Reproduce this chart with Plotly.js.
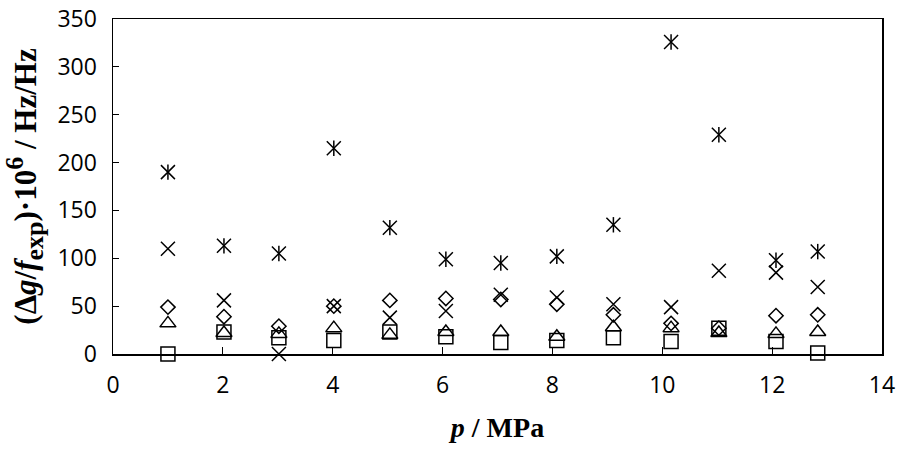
<!DOCTYPE html>
<html>
<head>
<meta charset="utf-8">
<script src="https://cdn.plot.ly/plotly-3.0.1.min.js"></script>
<style>html,body{margin:0;padding:0;background:#fff;}#chart{width:900px;height:450px;}</style>
</head>
<body>
<div id="chart"></div>
<script>
// pressure / MPa
const pressure = [1.0, 2.02, 3.02, 4.02, 5.04, 6.06, 7.06, 8.08, 9.11, 10.16, 11.03, 12.07, 12.83];
// (Δg/f_exp)·10^6 for each series
const seriesSquare   = [0, 23, 17, 14, 23, 18, 12, 14, 17, 13, 27, 13, 1];
const seriesTriangle = [32, 22, 21, 27, 20, 23, 23, 18, 28, 27, 22, 21, 23];
const seriesDiamond  = [49, 39, 29, 50, 56, 58, 57, 52, 41, 32, 27, 40, 41];
const seriesCross    = [110, 56, 0, 50, 38, 45, 62, 59, 52, 49, 87, 85, 70];
const seriesStar     = [190, 113, 105, 215, 132, 99, 95, 102, 135, 326, 229, 98, 107];
const xTicks = [0, 2, 4, 6, 8, 10, 12, 14];
const yTicks = [0, 50, 100, 150, 200, 250, 300, 350];

function tr(y, symbol, size) {
  return {
    x: pressure, y: y, type: 'scatter', mode: 'markers', cliponaxis: false,
    hoverinfo: 'skip', showlegend: false,
    marker: {symbol: symbol, size: size, color: '#000', line: {color: '#000', width: 1.5}}
  };
}
const data = [
  tr(seriesSquare, 'square-open', 14),
  tr(seriesTriangle, 'triangle-up-open', 14),
  tr(seriesDiamond, 'diamond-open', 11),
  tr(seriesCross, 'x-thin-open', 14),
  tr(seriesStar, 'x-thin-open', 14),
  tr(seriesStar, 'line-ns-open', 11)
];

const tickFont = {family: 'Open Sans, sans-serif', size: 23, color: '#000'};
const titleFont = {family: 'Liberation Serif, Times New Roman, serif', size: 28, color: '#000', weight: 'bold'};
const yTitleFont = {family: 'Liberation Serif, Times New Roman, serif', size: 31, color: '#000', weight: 'bold'};

const layout = {
  width: 900, height: 450,
  margin: {l: 113, r: 18, t: 19, b: 96},
  paper_bgcolor: '#fff', plot_bgcolor: '#fff',
  showlegend: false,
  xaxis: {
    range: [0, 14], tickvals: xTicks, ticktext: xTicks.map(String),
    showgrid: false, zeroline: false,
    showline: true, linecolor: '#000', linewidth: 1.5, mirror: true,
    ticks: 'inside', ticklen: 7, tickwidth: 1.2, tickcolor: '#000',
    tickfont: tickFont, ticklabelstandoff: 10,
    title: {text: '<b><i>p</i> / MPa</b>', font: titleFont, standoff: 18}
  },
  yaxis: {
    range: [0, 350], tickvals: yTicks, ticktext: yTicks.map(String),
    showgrid: false, zeroline: false,
    showline: true, linecolor: '#000', linewidth: 1.5, mirror: true,
    ticks: 'inside', ticklen: 6, tickwidth: 1.2, tickcolor: '#000',
    tickfont: tickFont, ticklabelstandoff: 10,
    title: {text: '<b>(Δ<i>g</i>/<i>f</i><sub><span style="font-size:26px">exp</span></sub>)·10<sup><span style="font-size:26px">6</span></sup> / Hz/Hz</b>', font: yTitleFont, standoff: 19}
  }
};
Plotly.newPlot('chart', data, layout, {displayModeBar: false, staticPlot: true});
</script>
</body>
</html>
